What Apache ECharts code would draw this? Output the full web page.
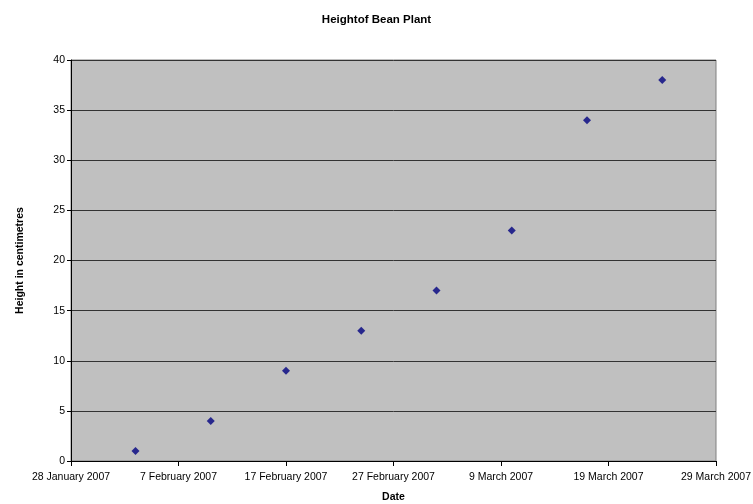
<!DOCTYPE html>
<html>
<head>
<meta charset="utf-8">
<script src="https://cdn.jsdelivr.net/npm/echarts@6/dist/echarts.min.js"></script>
<style>html,body{margin:0;padding:0;background:#fff}#c{width:753px;height:504px}</style>
</head>
<body>
<div id="c"></div>
<script>
var dates = ['2007-02-03','2007-02-10','2007-02-17','2007-02-24','2007-03-03','2007-03-10','2007-03-17','2007-03-24'];
var heights = [1, 4, 9, 13, 17, 23, 34, 38];
var axisStart = '2007-01-28';
var axisDays = 60;
var tickDays = 10;
var yTicks = [0, 5, 10, 15, 20, 25, 30, 35, 40];
var months = ['January','February','March','April','May','June','July','August','September','October','November','December'];

var DAY = 86400000;
function ts(s){ var p = s.split('-'); return Date.UTC(+p[0], +p[1]-1, +p[2]); }
var t0 = ts(axisStart);
function dayOff(s){ return Math.round((ts(s) - t0) / DAY); }
function fmt(d){ var dt = new Date(t0 + d*DAY); return dt.getUTCDate() + ' ' + months[dt.getUTCMonth()] + ' ' + dt.getUTCFullYear(); }

var data = dates.map(function(d,i){ return [dayOff(d), heights[i]]; });
var font = 'Liberation Sans, Arial, sans-serif';

var chart = echarts.init(document.getElementById('c'), null, {renderer:'canvas'});
chart.setOption({
  animation: false,
  backgroundColor: '#fff',
  title: {
    text: 'Heightof Bean Plant', left: 'center', top: 9,
    textStyle: {fontFamily: font, fontSize: 11.5, fontWeight: 'bold', color: '#000'}
  },
  grid: {left: 71, right: 37, top: 60, bottom: 43, outerBoundsMode: 'none', containLabel: false,
         show: true, backgroundColor: '#C0C0C0', borderColor: '#808080', borderWidth: 1},
  xAxis: {
    type: 'value', min: 0, max: axisDays, interval: tickDays,
    name: 'Date', nameLocation: 'middle', nameGap: 31,
    nameTextStyle: {fontFamily: font, fontSize: 10.5, fontWeight: 'bold', color: '#000'},
    axisLine: {show: true, onZero: false, lineStyle: {color: '#000', width: 1}},
    axisTick: {show: true, inside: false, length: 5, lineStyle: {color: '#000'}},
    axisLabel: {fontFamily: font, fontSize: 10.5, color: '#000', margin: 11, hideOverlap: false, formatter: function(v){ return fmt(v); }},
    splitLine: {show: false}
  },
  yAxis: {
    type: 'value', min: yTicks[0], max: yTicks[yTicks.length-1], interval: yTicks[1]-yTicks[0],
    name: 'Height in centimetres', nameLocation: 'middle', nameGap: 45, nameRotate: 90,
    nameTextStyle: {fontFamily: font, fontSize: 10.5, fontWeight: 'bold', color: '#000'},
    axisLine: {show: true, lineStyle: {color: '#000', width: 1}},
    axisTick: {show: true, inside: false, length: 4, lineStyle: {color: '#000'}},
    axisLabel: {fontFamily: font, fontSize: 10.5, color: '#000', margin: 6},
    splitLine: {show: true, lineStyle: {color: '#333', width: 1}}
  },
  series: [{
    type: 'scatter', data: data, symbol: 'diamond', symbolSize: 8,
    itemStyle: {color: '#000080'}
  }]
});
</script>
</body>
</html>
